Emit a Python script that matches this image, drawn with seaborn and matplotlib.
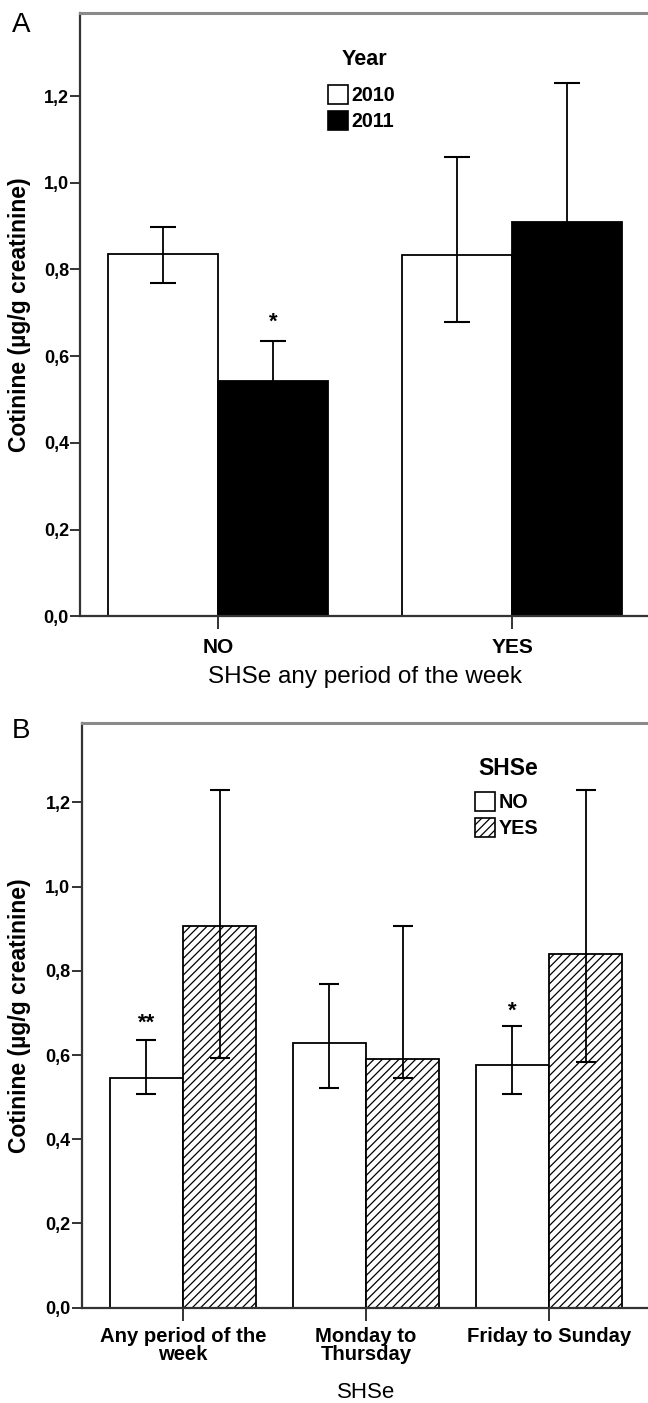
import pandas as pd
import seaborn as sns
import matplotlib.pyplot as plt
from matplotlib.patches import Patch

sns.set_style("white")
plt.rcParams["font.family"] = ["Liberation Sans", "DejaVu Sans"]
plt.rcParams["hatch.linewidth"] = 0.9
for key in ["text.color", "axes.labelcolor", "xtick.labelcolor", "ytick.labelcolor"]:
    plt.rcParams[key] = "black"

# ---- panel A: cotinine by SHSe (any period) and year
shse_a = ["NO", "YES"]
years = ["2010", "2011"]
mean_2010 = [0.835, 0.833]
lo_2010 = [0.769, 0.679]
hi_2010 = [0.899, 1.059]
mean_2011 = [0.543, 0.910]
lo_2011 = [0.455, 0.620]
hi_2011 = [0.635, 1.231]

# ---- panel B: cotinine by period and SHSe
periods = ["Any period of the\nweek", "Monday to\nThursday", "Friday to Sunday"]
shse_b = ["NO", "YES"]
mean_no = [0.545, 0.628, 0.576]
lo_no = [0.507, 0.521, 0.507]
hi_no = [0.636, 0.768, 0.669]
mean_yes = [0.907, 0.591, 0.839]
lo_yes = [0.592, 0.545, 0.584]
hi_yes = [1.230, 0.907, 1.230]

yticks = [0.0, 0.2, 0.4, 0.6, 0.8, 1.0, 1.2]
ytick_labels = ["0,0", "0,2", "0,4", "0,6", "0,8", "1,0", "1,2"]
YLABEL = "Cotinine (µg/g creatinine)"


def long_df(cats, levels, means, los, his, xname, hname):
    rows = []
    for lev, m, lo, hi in zip(levels, means, los, his):
        for c, mm, l, h in zip(cats, m, lo, hi):
            rows.append({xname: c, hname: lev, "mean": mm, "lo": l, "hi": h})
    return pd.DataFrame(rows)


def style_axes(ax, ylim_top, xsize, xpad, ylab_x):
    ax.set_ylim(0, ylim_top)
    ax.set_yticks(yticks)
    ax.set_yticklabels(ytick_labels, fontsize=13, fontweight="bold")
    for lab in ax.get_xticklabels():
        lab.set_fontsize(xsize)
        lab.set_fontweight("bold")
        lab.set_linespacing(0.92)
    ax.tick_params(axis="y", direction="out", length=7, width=1.4, color="#333333", pad=1, left=True)
    ax.tick_params(axis="x", direction="out", length=9.5, width=1.4, color="#333333", pad=xpad, bottom=True)
    for s in ["left", "bottom"]:
        ax.spines[s].set_color("#333333")
        ax.spines[s].set_linewidth(1.6)
    ax.spines["top"].set_color("#8a8a8a")
    ax.spines["top"].set_linewidth(2.2)
    ax.spines["right"].set_visible(False)
    ax.set_ylabel(YLABEL, fontsize=16.5, fontweight="bold")
    ax.yaxis.set_label_coords(ylab_x, 0.5)
    ax.yaxis.label.set_va("center")


def add_errorbars(ax, df, levels, hname, capsize):
    for cont, lev in zip(ax.containers, levels):
        sub = df[df[hname] == lev]
        bars = sorted(cont.patches, key=lambda p: p.get_x())
        xs = [p.get_x() + p.get_width() / 2 for p in bars]
        m = sub["mean"].values
        ax.errorbar(xs, m, yerr=[m - sub["lo"].values, sub["hi"].values - m],
                    fmt="none", ecolor="black", elinewidth=1.3, capsize=capsize,
                    capthick=1.5, zorder=5)


def add_legend(ax, handles, labels, title, box_xy, title_xy, title_size):
    ax.legend(handles, labels, frameon=False, loc="upper left",
              bbox_to_anchor=box_xy, prop=dict(weight="bold", size=14.2),
              handlelength=1.0, handleheight=1.1, handletextpad=0.2,
              labelspacing=0.3, borderaxespad=0, borderpad=0)
    ax.text(title_xy[0], title_xy[1], title, transform=ax.transAxes,
            ha="center", va="center", fontsize=title_size, fontweight="bold")


fig = plt.figure(figsize=(6.48, 14.03), dpi=100)

# ================= panel A
df_a = long_df(shse_a, years, [mean_2010, mean_2011], [lo_2010, lo_2011],
               [hi_2010, hi_2011], "shse", "year")
ax1 = fig.add_axes([80 / 648, 1 - 616.3 / 1403, 570 / 648, 603 / 1403])
sns.barplot(data=df_a, x="shse", y="mean", hue="year", hue_order=years,
            palette={"2010": "white", "2011": "black"}, edgecolor="black",
            linewidth=1.3, width=0.75, gap=0, errorbar=None, legend=False, ax=ax1)
add_errorbars(ax1, df_a, years, "year", capsize=9.7)
ax1.set_xlim(-0.469, 1.469)
style_axes(ax1, 1.391, 15, 6, (19.5 - 80) / 570)
ax1.set_xlabel("SHSe any period of the week", fontsize=17.5)
ax1.xaxis.set_label_coords(0.5, -(677 - 616.3) / 603)
ax1.xaxis.label.set_va("center")

star_bar = sorted(ax1.containers[1].patches, key=lambda p: p.get_x())[0]
ax1.text(star_bar.get_x() + star_bar.get_width() / 2, 0.678, "*",
         ha="center", va="center", fontsize=16, fontweight="bold")

hand_a = [Patch(facecolor="white", edgecolor="black", linewidth=1.2),
          Patch(facecolor="black", edgecolor="black", linewidth=1.2)]
add_legend(ax1, hand_a, years, "Year",
           ((328 - 80) / 570, 1 - (85 - 13.3) / 603),
           ((364 - 80) / 570, 1 - (60 - 13.3) / 603), 15.5)

# ================= panel B
df_b = long_df(periods, shse_b, [mean_no, mean_yes], [lo_no, lo_yes],
               [hi_no, hi_yes], "period", "shse")
ax2 = fig.add_axes([81.5 / 648, 1 - 1307.7 / 1403, 568.5 / 648, 584.4 / 1403])
sns.barplot(data=df_b, x="period", y="mean", hue="shse", hue_order=shse_b,
            palette={"NO": "white", "YES": "white"}, edgecolor="black",
            linewidth=1.3, width=0.8, gap=0, errorbar=None, legend=False, ax=ax2)
for p in ax2.containers[1].patches:
    p.set_hatch("////")
add_errorbars(ax2, df_b, shse_b, "shse", capsize=7.5)
ax2.set_xlim(-0.555, 2.552)
style_axes(ax2, 1.388, 14.6, 4.5, (19.5 - 81.5) / 568.5)
ax2.set_xlabel("SHSe", fontsize=16)
ax2.xaxis.set_label_coords(0.5, -(1393 - 1307.7) / 584.4)
ax2.xaxis.label.set_va("center")

no_bars = sorted(ax2.containers[0].patches, key=lambda p: p.get_x())
for bar, mark, yv in zip([no_bars[0], no_bars[2]], ["**", "*"], [0.676, 0.705]):
    ax2.text(bar.get_x() + bar.get_width() / 2, yv, mark,
             ha="center", va="center", fontsize=16, fontweight="bold")

hand_b = [Patch(facecolor="white", edgecolor="black", linewidth=1.2),
          Patch(facecolor="white", edgecolor="black", linewidth=1.2, hatch="////")]
add_legend(ax2, hand_b, shse_b, "SHSe",
           ((475 - 81.5) / 568.5, 1 - (792 - 723.3) / 584.4),
           ((508 - 81.5) / 568.5, 1 - (768 - 723.3) / 584.4), 16.5)

fig.text(12 / 648, 1 - 32 / 1403, "A", fontsize=20, va="baseline", ha="left")
fig.text(12 / 648, 1 - 738 / 1403, "B", fontsize=20, va="baseline", ha="left")

fig.savefig("out.png", dpi=100)
